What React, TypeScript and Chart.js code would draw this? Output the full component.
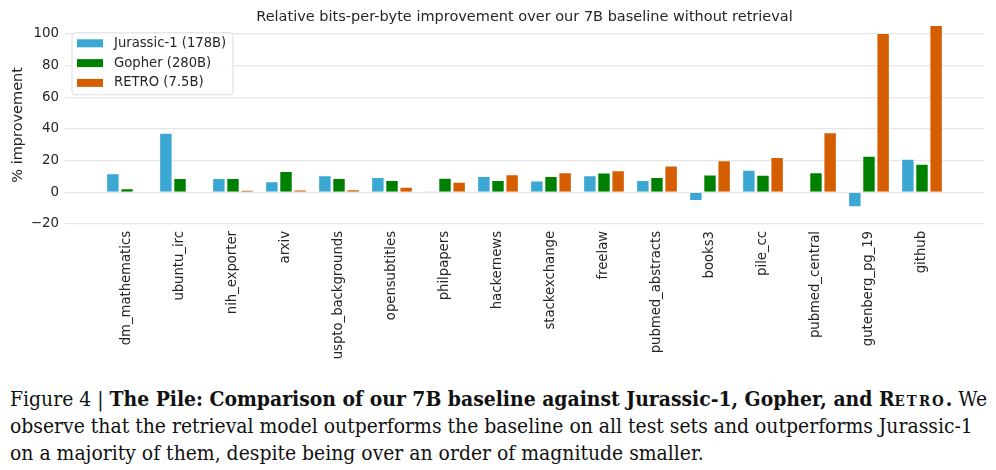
import React, { useEffect, useRef } from "react";
import { Chart, registerables } from "chart.js";

Chart.register(...registerables);

const categories = [
  "dm_mathematics",
  "ubuntu_irc",
  "nih_exporter",
  "arxiv",
  "uspto_backgrounds",
  "opensubtitles",
  "philpapers",
  "hackernews",
  "stackexchange",
  "freelaw",
  "pubmed_abstracts",
  "books3",
  "pile_cc",
  "pubmed_central",
  "gutenberg_pg_19",
  "github",
];

const jurassic = [12.0, 37.6, 9.0, 6.9, 10.8, 9.6, 0.6, 10.2, 7.5, 10.8, 7.7, -5.5, 14.2, 0, -9.5, 21.2];
const gopher = [2.5, 9.0, 9.0, 13.4, 9.0, 7.7, 9.2, 7.7, 10.2, 12.5, 9.6, 11.2, 11.0, 12.7, 23.1, 18.0];
const retro = [0, 0, 1.4, 1.8, 1.9, 3.5, 6.7, 11.3, 12.7, 13.9, 16.9, 20.2, 22.3, 37.8, 100.4, 105.5];

const seriesLabels = ["Jurassic-1 (178B)", "Gopher (280B)", "RETRO (7.5B)"];
const seriesColors = ["#3ba7d3", "#008000", "#d55e00"];
const yTicks = [-20, 0, 20, 40, 60, 80, 100];

const titleText = "Relative bits-per-byte improvement over our 7B baseline without retrieval";
const yTitle = "% improvement";

const TEXT = "#262626";
const FONT = '"DejaVu Sans", sans-serif';

Chart.defaults.font.family = FONT;
Chart.defaults.font.size = 13.2;
Chart.defaults.color = TEXT;

const boxLegend = {
  id: "boxLegend",
  afterDraw(chart: any) {
    const { ctx, chartArea } = chart;
    const x0 = chartArea.left + 7;
    const y0 = chartArea.top + 7;
    const w = 161;
    const h = 62;
    ctx.save();
    ctx.beginPath();
    const r = 3;
    ctx.moveTo(x0 + r, y0);
    ctx.lineTo(x0 + w - r, y0);
    ctx.quadraticCurveTo(x0 + w, y0, x0 + w, y0 + r);
    ctx.lineTo(x0 + w, y0 + h - r);
    ctx.quadraticCurveTo(x0 + w, y0 + h, x0 + w - r, y0 + h);
    ctx.lineTo(x0 + r, y0 + h);
    ctx.quadraticCurveTo(x0, y0 + h, x0, y0 + h - r);
    ctx.lineTo(x0, y0 + r);
    ctx.quadraticCurveTo(x0, y0, x0 + r, y0);
    ctx.closePath();
    ctx.fillStyle = "rgba(255,255,255,0.85)";
    ctx.fill();
    ctx.strokeStyle = "#dddddd";
    ctx.lineWidth = 1;
    ctx.stroke();
    ctx.font = `13.2px ${FONT}`;
    ctx.textBaseline = "middle";
    ctx.textAlign = "left";
    chart.data.datasets.forEach((ds: any, i: number) => {
      const cy = y0 + 10.5 + i * 19.8;
      ctx.fillStyle = ds.backgroundColor;
      ctx.fillRect(x0 + 5, cy - 4, 26, 8);
      ctx.fillStyle = TEXT;
      ctx.fillText(ds.label, x0 + 42, cy);
    });
    ctx.restore();
  },
};

export default function App() {
  const ref = useRef<HTMLCanvasElement | null>(null);

  useEffect(() => {
    if (!ref.current) return;
    const mk = (vals: number[]) => vals.map((v, i) => ({ x: i, y: v }));
    const data = [jurassic, gopher, retro];
    const chart = new Chart(ref.current, {
      type: "bar",
      data: {
        datasets: data.map((vals, k) => ({
          label: seriesLabels[k],
          data: mk(vals),
          backgroundColor: seriesColors[k],
          borderColor: "rgba(255,255,255,0.55)",
          borderWidth: 1,
          categoryPercentage: 0.8,
          barPercentage: 0.95,
        })),
      },
      options: {
        responsive: false,
        animation: false,
        devicePixelRatio: 1,
        layout: { padding: { left: 0, right: 12, top: 0, bottom: 0 } },
        plugins: {
          legend: { display: false },
          tooltip: { enabled: false },
          title: {
            display: true,
            text: titleText,
            color: TEXT,
            fullSize: false,
            font: { family: FONT, size: 14.5, weight: "normal", lineHeight: 1.2 },
            padding: { top: 8.4, bottom: 0 },
          },
        },
        scales: {
          x: {
            type: "linear",
            min: -1.17,
            max: 16.17,
            offset: false,
            grid: { display: false, drawTicks: false, offset: false },
            border: { display: false },
            afterBuildTicks: (scale: any) => {
              scale.ticks = categories.map((_, i) => ({ value: i }));
            },
            afterFit: (scale: any) => {
              scale.height = 146;
            },
            ticks: {
              autoSkip: false,
              minRotation: 90,
              maxRotation: 90,
              padding: 7,
              color: TEXT,
              font: { family: FONT, size: 13.2, lineHeight: 1.2 },
              callback: (v: any) => categories[v] ?? "",
            },
          },
          y: {
            min: -20,
            max: 105,
            grid: { color: "#e6e6e6", lineWidth: 1.3, drawTicks: false },
            border: { display: false },
            afterBuildTicks: (scale: any) => {
              scale.ticks = yTicks.map((v) => ({ value: v }));
            },
            afterFit: (scale: any) => {
              scale.width = 65;
            },
            ticks: {
              padding: 6,
              color: TEXT,
              font: { family: FONT, size: 13.4, lineHeight: 1.2 },
              callback: (v: any) => (v < 0 ? "\u2212" + Math.abs(v) : String(v)),
            },
            title: {
              display: true,
              text: yTitle,
              color: TEXT,
              font: { family: FONT, size: 14.5 },
              padding: { top: 10, bottom: 0 },
            },
          },
        },
      },
      plugins: [boxLegend],
    } as any);
    return () => chart.destroy();
  }, []);

  return (
    <div style={{ position: "absolute", left: 0, top: 0, width: 996, height: 470, background: "#fff" }}>
      <canvas ref={ref} width={996} height={370} style={{ position: "absolute", left: 0, top: 0 }} />
      <div
        style={{
          position: "absolute",
          left: 10,
          top: 385,
          fontFamily: '"DejaVu Serif Condensed", "DejaVu Serif", serif',
          fontStretch: "condensed",
          fontSize: 20.9,
          lineHeight: "27px",
          color: "#111",
          whiteSpace: "nowrap",
        }}
      >
        Figure 4 | <b>The Pile: Comparison of our 7B baseline against Jurassic-1, Gopher, and R<span style={{ fontVariant: "small-caps", letterSpacing: 2 }}>etro</span>.</b> We
        <br />
        observe that the retrieval model outperforms the baseline on all test sets and outperforms Jurassic-1
        <br />
        on a majority of them, despite being over an order of magnitude smaller.
      </div>
    </div>
  );
}
